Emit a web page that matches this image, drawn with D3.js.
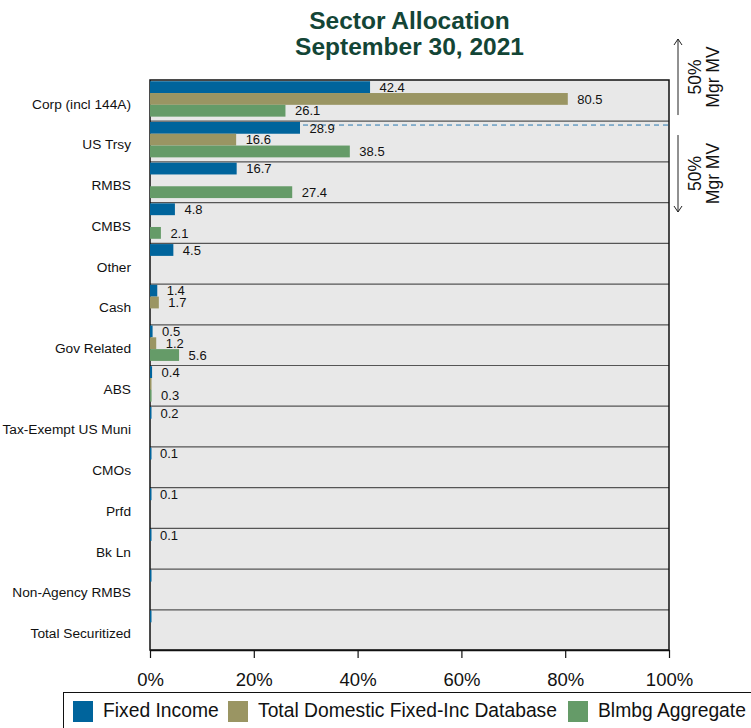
<!DOCTYPE html>
<html><head><meta charset="utf-8">
<script src="https://cdn.jsdelivr.net/npm/d3@7"></script>
<style>
html,body{margin:0;padding:0;background:#fff;}
svg{display:block;font-family:"Liberation Sans",Arial,sans-serif;}
</style></head>
<body><svg id="chart" width="751" height="728"></svg>
<script>
const categories = ["Corp (incl 144A)","US Trsy","RMBS","CMBS","Other","Cash","Gov Related","ABS","Tax-Exempt US Muni","CMOs","Prfd","Bk Ln","Non-Agency RMBS","Total Securitized"];
const fixedIncome   = [42.4, 28.9, 16.7, 4.8, 4.5, 1.4, 0.5, 0.4, 0.2, 0.1, 0.1, 0.1, 0.04, 0.04];
const totalDomestic = [80.5, 16.6, null, null, null, 1.7, 1.2, 0.04, null, null, null, null, null, null];
const blmbgAggregate= [26.1, 38.5, 27.4, 2.1, null, null, 5.6, 0.3, null, null, null, null, null, null];
const seriesNames = ["Fixed Income","Total Domestic Fixed-Inc Database","Blmbg Aggregate"];
const seriesColors = ["#00649c","#9a9563","#659b68"];
const xTicks = [0,20,40,60,80,100];
const titleLines = ["Sector Allocation","September 30, 2021"];
const mgrMvSplit = 50; // cumulative % of manager MV where the dashed line sits
const annotLabel = ["50%","Mgr MV"];

const series = [fixedIncome,totalDomestic,blmbgAggregate];
const svg = d3.select("#chart");
const M = {left:150, right:669, top:80, bottom:650};

const x = d3.scaleLinear().domain([0,100]).range([M.left,M.right]);
const y = d3.scaleBand().domain(categories).range([M.top,M.bottom]).paddingInner(0).paddingOuter(0);
const bw = y.bandwidth();
const sub = d3.scaleBand().domain(d3.range(3)).range([bw*0.03, bw*0.9]).paddingInner(0);

// title
svg.append("g").selectAll("text").data(titleLines).join("text")
  .attr("x",(M.left+M.right)/2).attr("y",(d,i)=>29+i*26)
  .attr("text-anchor","middle").attr("font-size",24.5).attr("font-weight","bold")
  .attr("fill","#134536").text(d=>d);

// plot background
svg.append("rect").attr("x",M.left).attr("y",M.top).attr("width",M.right-M.left).attr("height",M.bottom-M.top)
  .attr("fill","#e8e8e8");

// row separators
svg.append("g").selectAll("line").data(categories.slice(1)).join("line")
  .attr("x1",M.left).attr("x2",M.right)
  .attr("y1",d=>y(d)+0.5).attr("y2",d=>y(d)+0.5)
  .attr("stroke","#555").attr("stroke-width",1.2);

// dashed 50% line
const cum = d3.cumsum(fixedIncome);
const idx = cum.findIndex(v=>v>=mgrMvSplit);
const prev = idx>0?cum[idx-1]:0;
const frac = (mgrMvSplit-prev)/fixedIncome[idx];
const dashY = y(categories[idx]) + sub(0) + frac*sub.bandwidth();
svg.append("line").attr("x1",M.left).attr("x2",M.right).attr("y1",dashY).attr("y2",dashY)
  .attr("stroke","#2a78b0").attr("stroke-width",1).attr("stroke-dasharray","5,4");

// plot border
svg.append("rect").attr("x",M.left).attr("y",M.top).attr("width",M.right-M.left).attr("height",M.bottom-M.top)
  .attr("fill","none").attr("stroke","#111").attr("stroke-width",1.5);

// bars
series.forEach((vals,si)=>{
  const g = svg.append("g");
  const data = categories.map((c,i)=>({c,v:vals[i]})).filter(d=>d.v!=null);
  g.selectAll("rect").data(data).join("rect")
    .attr("x",x(0)).attr("y",d=>y(d.c)+sub(si))
    .attr("width",d=>Math.max(1.5,x(d.v)-x(0))).attr("height",sub.bandwidth())
    .attr("fill",seriesColors[si]);
  g.selectAll("text").data(data.filter(d=>d.v>=0.1)).join("text")
    .attr("x",d=>x(d.v)+9.5).attr("y",d=>y(d.c)+sub(si)+sub.bandwidth()/2)
    .attr("dy","0.36em").attr("font-size",13).attr("fill","#111")
    .text(d=>d3.format(".1f")(d.v));
});

// y axis labels
const ya = svg.append("g").attr("transform",`translate(${M.left},4)`)
  .call(d3.axisLeft(y).tickSize(0).tickPadding(19));
ya.select(".domain").remove();
ya.selectAll("text").attr("font-size",13.7).attr("fill","#111").attr("font-family","Liberation Sans, Arial, sans-serif");

// x axis
const xa = svg.append("g").attr("transform",`translate(0,${M.bottom})`)
  .call(d3.axisBottom(x).tickValues(xTicks).tickFormat(d=>d+"%").tickSize(8).tickPadding(15).tickSizeOuter(0));
xa.select(".domain").attr("stroke","#111").attr("stroke-width",1.5);
xa.selectAll(".tick line").attr("stroke","#111").attr("stroke-width",1.2);
xa.selectAll("text").attr("font-size",18.5).attr("fill","#111").attr("font-family","Liberation Sans, Arial, sans-serif");

// right annotation arrows
const ax = M.right+9;
const topArrowTop = 39, topArrowBot = dashY-10, botArrowTop = dashY+10, botArrowBot = 212;
const arr = svg.append("g").attr("stroke","#222").attr("stroke-width",1).attr("fill","none");
arr.append("line").attr("x1",ax).attr("x2",ax).attr("y1",topArrowTop).attr("y2",topArrowBot);
arr.append("path").attr("d",`M${ax-4},${topArrowTop+6}L${ax},${topArrowTop}L${ax+4},${topArrowTop+6}`);
arr.append("line").attr("x1",ax).attr("x2",ax).attr("y1",botArrowTop).attr("y2",botArrowBot);
arr.append("path").attr("d",`M${ax-4},${botArrowBot-6}L${ax},${botArrowBot}L${ax+4},${botArrowBot-6}`);
[ (topArrowTop+topArrowBot)/2, (botArrowTop+botArrowBot)/2 ].forEach(cy=>{
  const t = svg.append("text").attr("transform",`translate(${ax+23},${cy}) rotate(-90)`)
    .attr("text-anchor","middle").attr("font-size",17.5).attr("fill","#111");
  t.append("tspan").attr("x",0).attr("dy",0).text(annotLabel[0]);
  t.append("tspan").attr("x",0).attr("dy","1.0em").text(annotLabel[1]);
});

// legend
svg.append("rect").attr("x",63.5).attr("y",692.5).attr("width",700).attr("height",50)
  .attr("fill","#fff").attr("stroke","#111").attr("stroke-width",1);
const legX = [73,228,568];
const lg = svg.append("g").selectAll("g").data(seriesNames).join("g")
  .attr("transform",(d,i)=>`translate(${legX[i]},701)`);
lg.append("rect").attr("width",20).attr("height",21).attr("fill",(d,i)=>seriesColors[i]);
lg.append("text").attr("x",30).attr("y",15.5).attr("font-size",19.3).attr("fill","#111").text(d=>d);
</script></body></html>
